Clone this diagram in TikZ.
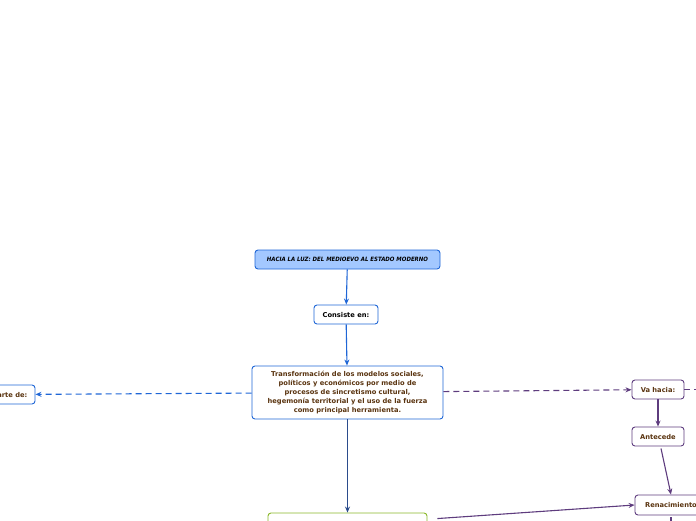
\documentclass[tikz,border=0pt]{standalone}
\usepackage{fontspec}
\setmainfont{DejaVu Sans}
\usepackage{xcolor}
\usepackage{tikz}
\usetikzlibrary{calc,arrows.meta}
\definecolor{b}{HTML}{1F66D6}
\definecolor{bfill}{HTML}{A3C8FF}
\definecolor{db}{HTML}{2B4C8C}
\definecolor{p}{HTML}{5E3C7E}
\definecolor{g}{HTML}{8AB82A}
\definecolor{txt}{HTML}{5A3410}

\tikzset{
  box/.style={draw, rounded corners=3pt, line width=0.9pt, fill=white,
    font=\fontsize{6.7}{8.8}\selectfont\bfseries, text=txt, align=center,
    inner sep=2pt},
  link/.style={line width=1.1pt, -{Stealth[length=6pt,width=5pt]}},
  dlink/.style={link, dash pattern=on 6pt off 4pt}
}

\begin{document}
\begin{tikzpicture}[x=1pt,y=-1pt]
\useasboundingbox (0,0) rectangle (696,520);
% layout the boxes
\node[box, draw=b, fill=bfill, text=black, minimum width=185pt, minimum height=19pt,
  font=\fontsize{5.9}{6}\selectfont\bfseries\itshape] (title) at (347.5,259.5)
  {\addfontfeatures{FakeStretch=0.92}HACIA LA LUZ: DEL MEDIOEVO AL ESTADO MODERNO};
\node[box, draw=b, text=black, minimum width=64pt, minimum height=19pt] (consiste) at (346,314.5) {Consiste en:};
\node[box, draw=b, minimum width=191pt, minimum height=53pt] (main) at (347.5,392.5)
  {Transformación de los modelos sociales,\\ políticos y económicos por medio de\\
   procesos de sincretismo cultural,\\ hegemonía territorial y el uso de la fuerza\\
   como principal herramienta.};
\node[box, draw=b, minimum width=50pt, minimum height=19pt] (parte) at (10,394.5) {Parte de:};
\node[box, draw=p, minimum width=52pt, minimum height=19pt] (vahacia) at (658,389.5) {Va hacia:};
\node[box, draw=p, minimum width=52pt, minimum height=19pt] (antecede) at (658,436.5) {Antecede};
\node[box, draw=p, minimum width=72pt, minimum height=20pt] (renac) at (671,505) {Renacimiento};
\node[box, draw=g, minimum width=159pt, minimum height=40pt] (green) at (347.5,533) {};
\coordinate (vaout) at (710,389.5);

% connectors
\draw[link, b] (title) -- (consiste);
\draw[link, b] (consiste) -- (main);
\draw[link, db] (main) -- (green);
\draw[dlink, b] (main) -- (parte);
\draw[dlink, p] (main) -- (vahacia);
\draw[line width=1.1pt, p, dash pattern=on 6pt off 4pt] (vahacia) -- (vaout);
\draw[link, p] (vahacia) -- (antecede);
\draw[link, p] ($(antecede.south)+(3,2)$) -- (renac.north);
\draw[link, p] ($(green.north east)+(10,6)$) -- (renac.west);
\draw[line width=1.1pt, p] ($(renac.south)+(0,2)$) -- ++(0,10);

\end{tikzpicture}
\end{document}
